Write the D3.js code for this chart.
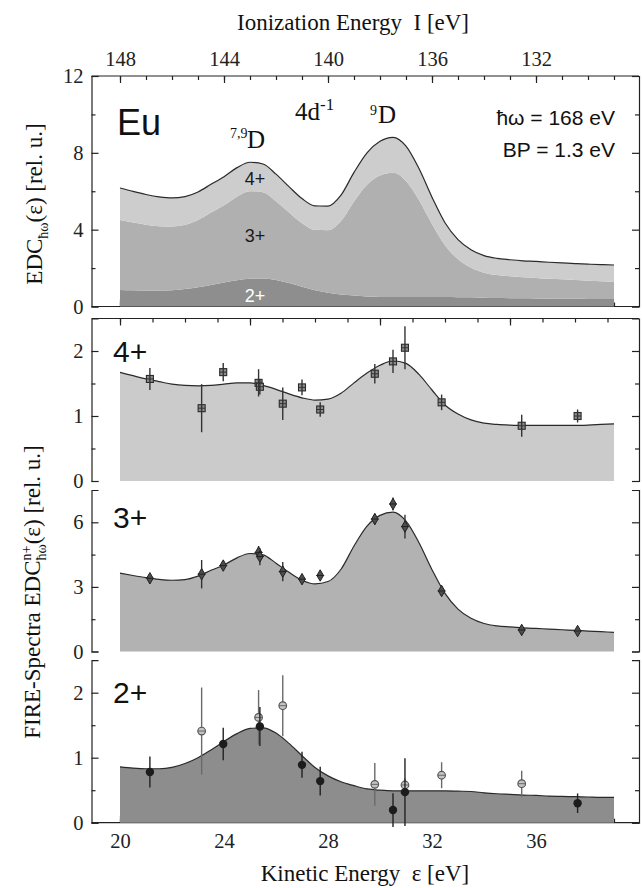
<!DOCTYPE html>
<html>
<head>
<meta charset="utf-8">
<script src="https://cdn.jsdelivr.net/npm/d3@7"></script>
<style>
  html, body { margin: 0; padding: 0; background: #fff; }
  svg { display: block; }
  text { white-space: pre; }
</style>
</head>
<body>
<svg id="chart" width="642" height="888"></svg>
<script>
// ---- data ---------------------------------------------------------------
const photonEnergy = 168;                       // eV, I = ħω − ε
const ionTicks = [148, 144, 140, 136, 132];     // ionization-energy labels
const kinTicks = [20, 24, 28, 32, 36];          // kinetic-energy labels
const chargeStates = ["4+", "3+", "2+"];

// fitted partial spectra on a common kinetic-energy grid (eV)
const fitEnergy = [20, 20.5, 21, 21.5, 22, 22.5, 23, 23.5, 24, 24.5, 25, 25.5, 26, 26.5, 27, 27.5,
  28, 28.5, 29, 29.5, 30, 30.5, 31, 31.5, 32, 32.5, 33, 33.5, 34, 34.5, 35, 35.5, 36, 36.5, 37, 37.5,
  38, 38.5, 39];
const fit4 = [1.67, 1.62, 1.57, 1.53, 1.49, 1.47, 1.465, 1.47, 1.49, 1.51, 1.51, 1.47, 1.41, 1.34,
  1.28, 1.245, 1.26, 1.35, 1.51, 1.66, 1.78, 1.85, 1.81, 1.64, 1.40, 1.17, 1.03, 0.94, 0.89, 0.87,
  0.86, 0.855, 0.855, 0.855, 0.855, 0.855, 0.86, 0.87, 0.88];
const fit3 = [3.64, 3.53, 3.43, 3.35, 3.31, 3.34, 3.50, 3.77, 4.02, 4.35, 4.55, 4.49, 4.10, 3.68,
  3.31, 3.14, 3.25, 3.82, 4.90, 5.82, 6.32, 6.47, 6.05, 5.05, 3.80, 2.70, 1.97, 1.54, 1.30, 1.19,
  1.14, 1.10, 1.07, 1.04, 1.01, 0.98, 0.95, 0.92, 0.89];
const fit2 = [0.86, 0.84, 0.83, 0.83, 0.85, 0.91, 1.00, 1.12, 1.25, 1.37, 1.45, 1.46, 1.38, 1.22,
  1.03, 0.85, 0.72, 0.63, 0.57, 0.52, 0.50, 0.49, 0.49, 0.49, 0.49, 0.49, 0.485, 0.48, 0.46, 0.445,
  0.435, 0.425, 0.42, 0.41, 0.405, 0.40, 0.395, 0.39, 0.39];

// measured points: kinetic energy, value, error
const pts4E   = [21.15, 23.14, 23.97, 25.33, 25.38, 26.26, 27.0, 27.7, 29.8, 30.5, 30.96, 32.37, 35.45, 37.6];
const pts4V   = [1.57, 1.12, 1.675, 1.51, 1.45, 1.19, 1.44, 1.10, 1.65, 1.84, 2.05, 1.21, 0.85, 1.00];
const pts4Err = [0.17, 0.37, 0.14, 0.21, 0.12, 0.25, 0.12, 0.11, 0.15, 0.18, 0.33, 0.12, 0.17, 0.10];

const pts3E   = [21.15, 23.14, 23.97, 25.33, 25.38, 26.26, 27.0, 27.7, 29.8, 30.5, 30.96, 32.37, 35.45, 37.6];
const pts3V   = [3.40, 3.59, 3.99, 4.60, 4.41, 3.71, 3.36, 3.53, 6.15, 6.85, 5.80, 2.81, 1.00, 0.95];
const pts3Err = [0.20, 0.66, 0.20, 0.30, 0.40, 0.45, 0.20, 0.20, 0.25, 0.30, 0.55, 0.20, 0.15, 0.12];

const pts2FilledE   = [21.15, 23.97, 25.38, 27.0, 27.7, 30.5, 30.96, 37.6];
const pts2FilledV   = [0.78, 1.21, 1.48, 0.89, 0.64, 0.195, 0.47, 0.30];
const pts2FilledErr = [0.24, 0.25, 0.30, 0.20, 0.22, 0.26, 0.52, 0.15];

const pts2OpenE   = [23.14, 25.33, 26.26, 29.8, 30.96, 32.37, 35.45];
const pts2OpenV   = [1.41, 1.62, 1.80, 0.59, 0.58, 0.73, 0.60];
const pts2OpenErr = [0.67, 0.42, 0.47, 0.33, 0.10, 0.20, 0.20];

// ---- layout -------------------------------------------------------------
const SERIF = "'Liberation Serif','Times New Roman',serif";
const SANS = "'Liberation Sans',Arial,sans-serif";
const INK = "#222";
const X0 = 91.5, X1 = 639;
const svg = d3.select("#chart");

const x = d3.scaleLinear().domain([20, 39]).range([120, 614]);
const xI = d3.scaleLinear().domain([photonEnergy - 20, photonEnergy - 39]).range([120, 614]);

const panels = {
  total: { y: d3.scaleLinear().domain([0, 12]).range([306.5, 76]), major: [0, 4, 8, 12], minor: [2, 6, 10] },
  "4+": { y: d3.scaleLinear().domain([0, 2.5]).range([481, 318.5]), major: [0, 1, 2], minor: [0.5, 1.5], fill: "#cbcbcb" },
  "3+": { y: d3.scaleLinear().domain([0, 7.5]).range([651.5, 490]), major: [0, 3, 6], minor: [1.5, 4.5], fill: "#b2b2b2" },
  "2+": { y: d3.scaleLinear().domain([0, 2.5]).range([822.7, 660.2]), major: [0, 1, 2], minor: [0.5, 1.5], fill: "#8d8d8d" }
};
const layerFill = { "4+": "#cdcdcd", "3+": "#b0b0b0", "2+": "#8e8e8e" };

const fitRows = fitEnergy.map((e, i) => ({ e, "4+": fit4[i], "3+": fit3[i], "2+": fit2[i] }));

function styleAxis(g) {
  g.attr("font-family", SERIF).attr("font-size", 20.5).attr("color", INK);
  g.selectAll("path,line").attr("stroke-width", 1.2);
  return g;
}

// ---- y axes (left with labels, right without) ---------------------------
Object.values(panels).forEach(p => {
  svg.append("g").attr("transform", `translate(${X0},0)`)
    .call(d3.axisLeft(p.y).tickValues(p.major).tickSizeInner(-7).tickSizeOuter(-7)
      .tickPadding(8).tickFormat(d3.format("d")))
    .call(styleAxis);
  svg.append("g").attr("transform", `translate(${X0},0)`)
    .call(d3.axisLeft(p.y).tickValues(p.minor).tickSizeInner(-4).tickSizeOuter(0).tickFormat(""))
    .call(styleAxis).select(".domain").remove();
  svg.append("g").attr("transform", `translate(${X1},0)`)
    .call(d3.axisRight(p.y).tickValues(p.major).tickSizeInner(-7).tickSizeOuter(-7).tickFormat(""))
    .call(styleAxis);
  svg.append("g").attr("transform", `translate(${X1},0)`)
    .call(d3.axisRight(p.y).tickValues(p.minor).tickSizeInner(-4).tickSizeOuter(0).tickFormat(""))
    .call(styleAxis).select(".domain").remove();
});

// ---- horizontal frame lines --------------------------------------------
[panels.total.y(12), panels.total.y(0), panels["4+"].y(2.5), panels["2+"].y(0)].forEach(yy => {
  svg.append("line").attr("x1", X0).attr("x2", X1).attr("y1", yy).attr("y2", yy)
    .attr("stroke", INK).attr("stroke-width", 1.2);
});

function xTicks(scale, yy, values, len, dir) {
  const ax = dir === "down" ? d3.axisTop(scale) : d3.axisBottom(scale);
  const g = svg.append("g").attr("transform", `translate(0,${yy})`)
    .call(ax.tickValues(values).tickSizeInner(-len).tickSizeOuter(0).tickFormat(""))
    .call(styleAxis);
  g.select(".domain").remove();
  return g;
}

// top panel: ionization energy scale on top
const topY = panels.total.y(12);
svg.append("g").attr("transform", `translate(0,${topY})`)
  .call(d3.axisTop(xI).tickValues(ionTicks).tickSizeInner(-7).tickSizeOuter(0)
    .tickPadding(10).tickFormat(d3.format("d")))
  .call(styleAxis).select(".domain").remove();
xTicks(xI, topY, d3.range(129, 149), 4, "down");

// top panel bottom edge
xTicks(x, panels.total.y(0), d3.range(20, 40), 4, "up");
xTicks(x, panels.total.y(0), kinTicks, 7, "up");

// 4+ panel top edge
xTicks(x, panels["4+"].y(2.5), d3.range(20, 39, 1.25), 4, "down");
xTicks(x, panels["4+"].y(2.5), [20, 25, 30, 35], 7, "down");

// bottom kinetic-energy axis
const botY = panels["2+"].y(0);
svg.append("g").attr("transform", `translate(0,${botY})`)
  .call(d3.axisBottom(x).tickValues(kinTicks).tickSizeInner(-7).tickSizeOuter(0)
    .tickPadding(11).tickFormat(d3.format("d")))
  .call(styleAxis).select(".domain").remove();
xTicks(x, botY, d3.range(20, 40), 4, "up");

// ---- top panel: stacked partial spectra --------------------------------
const stack = d3.stack().keys(["2+", "3+", "4+"])(fitRows);
const yT = panels.total.y;
const stackArea = d3.area().x(d => x(d.data.e)).y0(d => yT(d[0])).y1(d => yT(d[1]))
  .curve(d3.curveMonotoneX);
svg.append("g").selectAll("path").data(stack).join("path")
  .attr("d", stackArea).attr("fill", d => layerFill[d.key]);
svg.append("path").datum(stack[2])
  .attr("d", d3.line().x(d => x(d.data.e)).y(d => yT(d[1])).curve(d3.curveMonotoneX))
  .attr("fill", "none").attr("stroke", "#2a2a2a").attr("stroke-width", 1.2);

// ---- lower panels: individual spectra -----------------------------------
chargeStates.forEach(k => {
  const p = panels[k];
  svg.append("path").datum(fitRows)
    .attr("d", d3.area().x(d => x(d.e)).y0(p.y(0)).y1(d => p.y(d[k])).curve(d3.curveMonotoneX))
    .attr("fill", p.fill);
  svg.append("path").datum(fitRows)
    .attr("d", d3.line().x(d => x(d.e)).y(d => p.y(d[k])).curve(d3.curveMonotoneX))
    .attr("fill", "none").attr("stroke", "#2a2a2a").attr("stroke-width", 1.2);
});

function points(E, V, Err) { return E.map((e, i) => ({ e, v: V[i], err: Err[i] })); }

function errorBars(g, data, y, color) {
  g.selectAll(null).data(data).join("line")
    .attr("x1", d => x(d.e)).attr("x2", d => x(d.e))
    .attr("y1", d => y(d.v - d.err)).attr("y2", d => y(d.v + d.err))
    .attr("stroke", color).attr("stroke-width", 1.4);
}

// 4+ : squares
{
  const y = panels["4+"].y, g = svg.append("g");
  const data = points(pts4E, pts4V, pts4Err);
  g.selectAll(null).data(data).join("rect")
    .attr("x", d => x(d.e) - 3.5).attr("y", d => y(d.v) - 3.5).attr("width", 7).attr("height", 7)
    .attr("fill", "#8c8c8c").attr("stroke", "#2a2a2a").attr("stroke-width", 1.1);
  errorBars(g, data, y, "#333");
  g.selectAll(null).data(data).join("line")
    .attr("x1", d => x(d.e) - 3.5).attr("x2", d => x(d.e) + 3.5)
    .attr("y1", d => y(d.v)).attr("y2", d => y(d.v)).attr("stroke", "#333").attr("stroke-width", 1);
}

// 3+ : diamonds
{
  const y = panels["3+"].y, g = svg.append("g");
  const data = points(pts3E, pts3V, pts3Err);
  errorBars(g, data, y, "#333");
  g.selectAll(null).data(data).join("path")
    .attr("transform", d => `translate(${x(d.e)},${y(d.v)})`)
    .attr("d", d3.symbol(d3.symbolDiamond, 38))
    .attr("fill", "#4d4d4d").attr("stroke", "#222").attr("stroke-width", 1);
  g.selectAll(null).data(data).join("line")
    .attr("x1", d => x(d.e) - 4).attr("x2", d => x(d.e) + 4)
    .attr("y1", d => y(d.v)).attr("y2", d => y(d.v)).attr("stroke", "#222").attr("stroke-width", 1);
}

// 2+ : open and filled circles
{
  const y = panels["2+"].y, g = svg.append("g");
  const open = points(pts2OpenE, pts2OpenV, pts2OpenErr);
  const filled = points(pts2FilledE, pts2FilledV, pts2FilledErr);
  errorBars(g, open, y, "#6a6a6a");
  g.selectAll(null).data(open).join("circle")
    .attr("cx", d => x(d.e)).attr("cy", d => y(d.v)).attr("r", 3.8)
    .attr("fill", "#c4c4c4").attr("stroke", "#555").attr("stroke-width", 1.2);
  g.selectAll(null).data(open).join("line")
    .attr("x1", d => x(d.e) - 3.8).attr("x2", d => x(d.e) + 3.8)
    .attr("y1", d => y(d.v)).attr("y2", d => y(d.v)).attr("stroke", "#666").attr("stroke-width", 1);
  errorBars(g, filled, y, "#222");
  g.selectAll(null).data(filled).join("circle")
    .attr("cx", d => x(d.e)).attr("cy", d => y(d.v)).attr("r", 4.2)
    .attr("fill", "#1c1c1c");
}

// ---- text ---------------------------------------------------------------
function label(xx, yy, str, font, size, opts = {}) {
  return svg.append("text").attr("x", xx).attr("y", yy).text(str)
    .attr("font-family", font).attr("font-size", size)
    .attr("text-anchor", opts.anchor || "start").attr("fill", opts.fill || "#111");
}

label(353, 30, "Ionization Energy  I [eV]", SERIF, 23, { anchor: "middle" });
label(365, 881, "Kinetic Energy  \u03b5 [eV]", SERIF, 23, { anchor: "middle" });

// annotations in the top panel
label(117, 135, "Eu", SANS, 36);
label(230, 138, "7,9", SERIF, 14);
label(247, 148, "D", SERIF, 25);
{
  const t = label(295, 120, "4d", SERIF, 25);
  t.append("tspan").attr("font-size", 17).attr("dy", -10).text("-1");
}
label(370, 115, "9", SERIF, 14);
label(378, 123, "D", SERIF, 25);
label(615, 125, "\u0127\u03c9 = 168 eV", SANS, 21, { anchor: "end" });
label(615, 157, "BP = 1.3 eV", SANS, 21, { anchor: "end" });
label(255, 185, "4+", SANS, 18, { anchor: "middle", fill: "#1a1a1a" });
label(255, 242, "3+", SANS, 18, { anchor: "middle", fill: "#1a1a1a" });
label(255, 302, "2+", SANS, 18, { anchor: "middle", fill: "#ffffff" });

// charge-state labels of the lower panels
label(113, 362, chargeStates[0], SANS, 30);
label(113, 528, chargeStates[1], SANS, 30);
label(113, 703, chargeStates[2], SANS, 30);

// y-axis titles
{
  const t = svg.append("text").attr("transform", "translate(42,204) rotate(-90)")
    .attr("text-anchor", "middle").attr("font-family", SERIF).attr("font-size", 23).attr("fill", "#111");
  t.append("tspan").text("EDC");
  t.append("tspan").attr("font-size", 14).attr("dy", 6).text("\u0127\u03c9");
  t.append("tspan").attr("dy", -6).text("(\u03b5) [rel. u.]");
}
{
  const t = svg.append("text").attr("transform", "translate(40,592) rotate(-90)")
    .attr("text-anchor", "middle").attr("font-family", SERIF).attr("font-size", 23).attr("fill", "#111");
  t.append("tspan").text("FIRE-Spectra EDC");
  const sup = t.append("tspan").attr("font-size", 14).attr("dy", -9).text("n+");
  const wSup = sup.node().getComputedTextLength();
  const sub = t.append("tspan").attr("font-size", 14).attr("dx", -wSup).attr("dy", 15).text("\u0127\u03c9");
  const wSub = sub.node().getComputedTextLength();
  t.append("tspan").attr("dx", Math.max(0, wSup - wSub)).attr("dy", -6).text("(\u03b5) [rel. u.]");
}
</script>
</body>
</html>
